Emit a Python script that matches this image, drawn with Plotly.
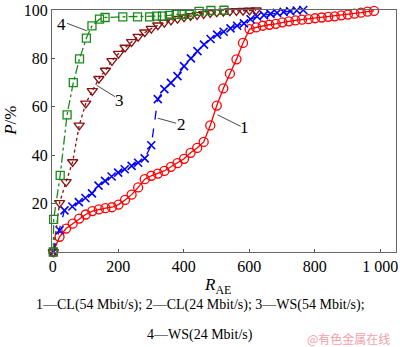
import plotly.graph_objects as go

# ---- data ----
x1 = [2, 21, 41, 61, 81, 101, 121, 141, 161, 181, 201, 221, 241, 261, 281, 301, 321, 341, 361, 381,
      401, 421, 441, 461, 481, 501, 521, 541, 561, 581, 601, 621, 641, 661, 681, 701, 721, 741, 761, 781,
      801, 821, 841, 861, 881, 901, 921, 941, 961, 981]
y1 = [0, 6.3, 9.7, 11.7, 13.8, 15.5, 16.9, 17.6, 18.1, 18.5, 19.6, 21.5, 23.7, 26.7, 30.1, 31.5, 32.4, 33.5, 35.2, 36.7,
      38.5, 41, 43, 45.5, 52.3, 60.5, 67.6, 73.7, 79.6, 86.4, 92.1, 92.8, 93.5, 93.9, 94.3, 94.9, 95.3, 95.7, 96, 96.2,
      96.6, 96.9, 97.2, 97.4, 97.8, 98.1, 98.5, 98.9, 99.3, 99.6]

x2 = [2, 21, 36, 60, 80, 100, 120, 140, 160, 180, 200, 220, 241, 261, 281, 301, 321, 341, 361, 381,
      401, 422, 442, 462, 482, 502, 522, 543, 563, 584, 604, 624, 645, 665, 685, 705, 725, 745, 765]
y2 = [0, 9, 17.2, 18.8, 20.6, 22.3, 24.2, 27.4, 29.4, 31.2, 32.8, 34.2, 35.6, 36.9, 38.7, 44.1, 63.2, 67.3, 69.9, 72.7,
      76.8, 80, 83, 85.7, 88, 89.8, 91, 92.4, 93.5, 94.5, 96.2, 97.3, 97.9, 98.4, 98.8, 99.2, 99.5, 99.8, 100]

x3 = [2, 21, 41, 61, 81, 101, 121, 141, 161, 181, 201, 221, 241, 261, 281, 301, 321, 341, 361, 381,
      401, 421, 441, 461, 481, 501, 521, 541, 561, 581, 601, 621]
y3 = [0, 20.3, 29, 37.2, 52.3, 61.4, 66.6, 71.6, 75, 79, 82, 84.5, 86.8, 89, 90.8, 92.3, 93.7, 94.8, 95.7, 96.4,
      97, 97.6, 98, 98.4, 98.8, 99.1, 99.3, 99.5, 99.6, 99.7, 99.8, 99.9]

x4 = [2, 3, 23, 44, 63, 82, 103, 120, 143, 160, 214, 259, 296, 317, 335, 356, 377, 395, 417, 447, 483, 523]
y4 = [0, 13.5, 31.7, 56.7, 70, 79.8, 88.4, 93.4, 96.2, 96.9, 97.2, 97.2, 97.2, 97.5, 97.5, 97.8, 98.2, 98.2, 98.2,
      99.4, 99.8, 99.9]

x_ticks = [0, 200, 400, 600, 800, 1000]
x_ticktext = ["0", "200", "400", "600", "800", "1 000"]
y_ticks = [20, 40, 60, 80, 100]

labels = ["1", "2", "3", "4"]
label_pos = [(587, 51.5), (393, 52.8), (205, 62.5), (28, 94)]
leader = [((503, 56.7), (574, 51.9)), ((321, 55.3), (377, 53.2)),
          ((134, 68.9), (190, 64.2)), ((44, 94.5), (104, 91.4))]

caption1 = "1—CL(54 Mbit/s); 2—CL(24 Mbit/s); 3—WS(54 Mbit/s);"
caption2 = "4—WS(24 Mbit/s)"
watermark = "@有色金属在线"

FONT = "Liberation Serif, Times New Roman, serif"

fig = go.Figure()
fig.add_trace(go.Scatter(x=x1, y=y1, mode="lines+markers", cliponaxis=False,
                         line=dict(color="#ff0000", width=1.3),
                         marker=dict(symbol="circle-open", size=9, color="#ff0000", line=dict(width=1.3))))
fig.add_trace(go.Scatter(x=x2, y=y2, mode="lines+markers", cliponaxis=False,
                         line=dict(color="#0000ff", width=1.3, dash="dash"),
                         marker=dict(symbol="x-thin-open", size=8, color="#0000ff", line=dict(width=1.6, color="#0000ff"))))
fig.add_trace(go.Scatter(x=x3, y=y3, mode="lines+markers", cliponaxis=False,
                         line=dict(color="#8b1010", width=1.3, dash="dot"),
                         marker=dict(symbol="triangle-down-open", size=9, color="#8b1010", line=dict(width=1.3))))
fig.add_trace(go.Scatter(x=x4, y=y4, mode="lines+markers", cliponaxis=False,
                         line=dict(color="#1a8a1a", width=1.3, dash="dashdot"),
                         marker=dict(symbol="square-open", size=8, color="#1a8a1a", line=dict(width=1.3))))

for (p0, p1) in leader:
    fig.add_shape(type="line", xref="x", yref="y", x0=p0[0], y0=p0[1], x1=p1[0], y1=p1[1],
                  line=dict(color="#333333", width=0.9))
for lab, (lx, ly) in zip(labels, label_pos):
    fig.add_annotation(x=lx, y=ly, xref="x", yref="y", text=lab, showarrow=False,
                       xanchor="center", yanchor="middle",
                       font=dict(family=FONT, size=17, color="black"))


def paper_note(px, py, text, size, family=FONT, color="black", angle=0):
    fig.add_annotation(x=(px - 52) / 346, y=(252 - py) / 245, xref="paper", yref="paper",
                       text=text, showarrow=False, xanchor="center", yanchor="middle",
                       textangle=angle, font=dict(family=family, size=size, color=color))


paper_note(218, 286, "<i>R</i><sub>AE</sub>", 17)
paper_note(10, 119, "<i>P</i>/%", 17, angle=-90)
paper_note(201, 306, caption1, 14)
paper_note(201, 336, caption2, 14)
paper_note(350, 340, watermark, 12, family="Noto Sans CJK SC", color="#f2a0a8")

fig.update_layout(
    width=400, height=347,
    margin=dict(l=52, r=2, t=7, b=95),
    paper_bgcolor="white", plot_bgcolor="white",
    showlegend=False,
    font=dict(family=FONT, size=16, color="black"),
)
fig.update_xaxes(range=[-2, 1048], tickvals=x_ticks, ticktext=x_ticktext,
                 ticks="inside", ticklen=3, tickcolor="#555555", ticklabeloverflow="allow",
                 showline=True, linecolor="#666666", linewidth=1, mirror=True,
                 showgrid=False, zeroline=False,
                 tickfont=dict(family=FONT, size=16, color="black"))
fig.update_yaxes(range=[0, 100], tickvals=y_ticks,
                 ticks="inside", ticklen=3, tickcolor="#555555", ticklabeloverflow="allow",
                 showline=True, linecolor="#666666", linewidth=1, mirror=True,
                 showgrid=False, zeroline=False,
                 tickfont=dict(family=FONT, size=16, color="black"))

fig.write_html("out.html")
